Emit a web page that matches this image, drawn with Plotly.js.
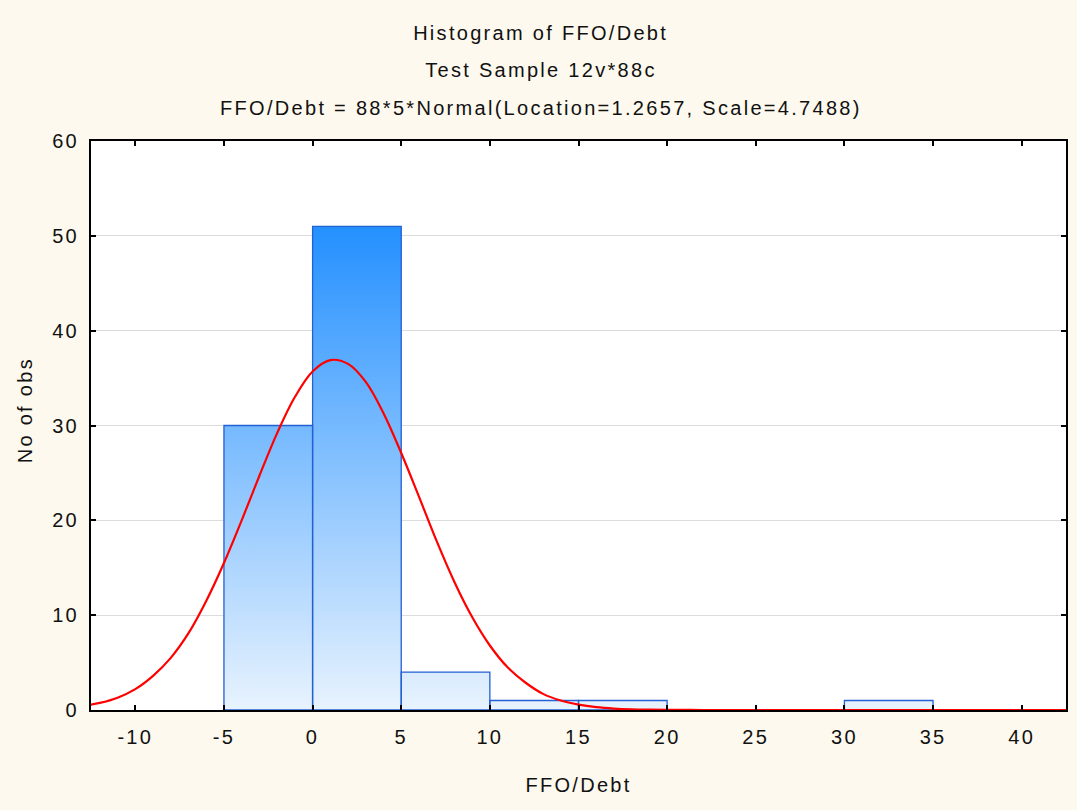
<!DOCTYPE html>
<html>
<head>
<meta charset="utf-8">
<script src="https://cdn.plot.ly/plotly-3.0.1.min.js"></script>
<style>
  html, body { margin: 0; padding: 0; background: #FDF9EE; }
  #chart { width: 1077px; height: 810px; }
  .main-svg text { letter-spacing: 2.3px; }
</style>
</head>
<body>
<div id="chart"></div>
<script>
// ---- data ----
const binStarts = [-10, -5, 0, 5, 10, 15, 20, 25, 30];
const binWidth = 5;
const counts = [0, 30, 51, 4, 1, 1, 0, 0, 1];

// fitted normal curve
const curveX = [-13, -12, -11, -10, -9, -8, -7, -6, -5, -4, -3, -2, -1, 0, 1, 2, 3, 4, 5, 6, 7, 8, 9, 10, 11, 12, 13, 14, 15, 16, 17, 18, 19, 20, 21, 22, 25, 30, 35, 40, 43];
const curveY = [0.41, 0.75, 1.3, 2.2, 3.6, 5.5, 8.1, 11.5, 15.5, 20.0, 24.7, 29.2, 33.0, 35.7, 36.9, 36.5, 34.6, 31.3, 27.1, 22.5, 17.8, 13.5, 9.8, 6.8, 4.5, 2.9, 1.7, 1.0, 0.57, 0.3, 0.15, 0.07, 0.03, 0.01, 0.005, 0, 0, 0, 0, 0, 0];

const titleLines = ["Histogram of FFO/Debt", "Test Sample 12v*88c", "FFO/Debt = 88*5*Normal(Location=1.2657, Scale=4.7488)"];
const xTickVals = [-10, -5, 0, 5, 10, 15, 20, 25, 30, 35, 40];
const yTickVals = [0, 10, 20, 30, 40, 50, 60];
const xTitle = "FFO/Debt";
const yTitle = "No of obs";

// ---- derived traces ----
// step outline (left edges + final right edge) for the gradient fill
const stepX = binStarts.slice(1).concat([binStarts[binStarts.length - 1] + binWidth]);
const stepY = counts.slice(1).concat([counts[counts.length - 1]]);
const maxCount = Math.max.apply(null, counts);

// bar outlines as closed rectangles (drawn above the fill)
const outX = [], outY = [];
binStarts.forEach((a, i) => {
  const c = counts[i];
  if (c > 0) {
    outX.push(a, a, a + binWidth, a + binWidth, a, null);
    outY.push(0, c, c, 0, 0, null);
  }
});

const FONT = 'Liberation Sans, Arial, sans-serif';
const TXT = '#111111';

const traces = [
  {
    type: 'scatter', mode: 'lines',
    x: stepX, y: stepY,
    line: { shape: 'hv', width: 0, color: 'rgba(0,0,0,0)' },
    fill: 'tozeroy',
    fillgradient: {
      type: 'vertical', start: 0, stop: maxCount,
      colorscale: [[0, '#E8F3FE'], [1, '#2490FF']]
    },
    hoverinfo: 'skip', showlegend: false
  },
  {
    type: 'scatter', mode: 'lines',
    x: outX, y: outY,
    connectgaps: false,
    line: { color: '#2260D4', width: 1.3 },
    showlegend: false
  },
  {
    type: 'scatter', mode: 'lines',
    x: curveX, y: curveY,
    line: { color: '#FF0000', width: 2.2, shape: 'spline', smoothing: 1 },
    showlegend: false
  }
];

const layout = {
  width: 1077, height: 810,
  paper_bgcolor: '#FDF9EE',
  plot_bgcolor: '#FFFFFF',
  margin: { l: 91, r: 11, t: 141, b: 100 },
  font: { family: FONT, size: 20, color: TXT },
  showlegend: false,
  title: {
    text: titleLines[0],
    font: { family: FONT, size: 20, color: TXT },
    xref: 'container', x: 0.502, xanchor: 'center',
    yref: 'container', y: 1 - 33 / 810, yanchor: 'middle'
  },
  annotations: [
    { text: titleLines[1], xref: 'paper', yref: 'paper', x: 0.4615, y: (710 - 70) / 569,
      xanchor: 'center', yanchor: 'middle', showarrow: false, font: { family: FONT, size: 20, color: TXT } },
    { text: titleLines[2], xref: 'paper', yref: 'paper', x: 0.4615, y: (710 - 108) / 569,
      xanchor: 'center', yanchor: 'middle', showarrow: false, font: { family: FONT, size: 20, color: TXT } },
    { text: yTitle, xref: 'paper', yref: 'paper', x: (25 - 91) / 975, y: (710 - 410) / 569,
      xanchor: 'center', yanchor: 'middle', textangle: -90, showarrow: false, font: { family: FONT, size: 20, color: TXT } }
  ],
  xaxis: {
    range: [-12.5, 42.5],
    tickvals: xTickVals,
    ticktext: xTickVals.map(String),
    ticks: 'inside', ticklen: 5, tickwidth: 2, tickcolor: '#000000',
    ticklabelstandoff: 8,
    showline: true, linewidth: 2, linecolor: '#000000', mirror: 'ticks',
    showgrid: false, zeroline: false,
    tickfont: { family: FONT, size: 20, color: TXT },
    title: { text: xTitle, font: { family: FONT, size: 20, color: TXT }, standoff: 31 }
  },
  yaxis: {
    range: [0, 60],
    tickvals: yTickVals,
    ticktext: yTickVals.map(String),
    ticks: 'inside', ticklen: 5, tickwidth: 2, tickcolor: '#000000',
    ticklabelstandoff: 6,
    showline: true, linewidth: 2, linecolor: '#000000', mirror: 'ticks',
    showgrid: true, gridcolor: '#DCDCDC', gridwidth: 1, zeroline: false,
    tickfont: { family: FONT, size: 20, color: TXT }
  }
};

Plotly.newPlot('chart', traces, layout, { displayModeBar: false, staticPlot: true });
</script>
</body>
</html>
